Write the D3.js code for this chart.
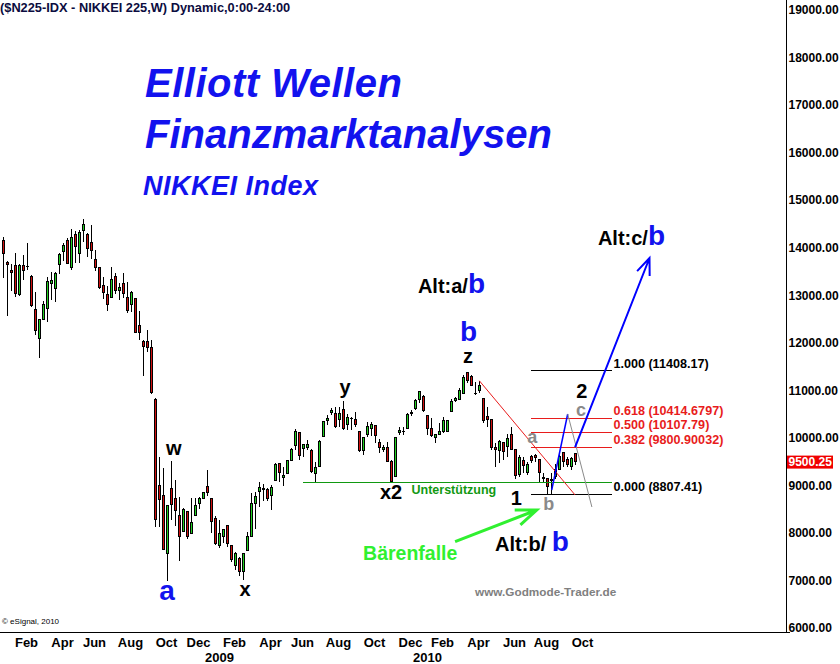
<!DOCTYPE html>
<html><head><meta charset="utf-8">
<script src="https://cdn.jsdelivr.net/npm/d3@7"></script>
<style>
body{margin:0;background:#fff;}
svg{display:block;font-family:"Liberation Sans",Arial,sans-serif;}
</style></head><body>
<svg id="c" width="840" height="664"></svg>
<script>
// ---------- DATA ----------
const firstWeek = "2008-01-14";   // Monday of first weekly bar
const lastWeek  = "2010-10-11";   // Monday of last weekly bar
const opens = [14141,13699,13510,13629,13019,13629,13600,13397,12710,12086,12493,12724,13250,13145,13650,13916,14141,13587,14281,13881,
14365,14267,14113,13755,13587,13208,13019,12956,13397,13096,13250,12956,12808,12935,12353,12037,12037,11890,10817,9008,
8777,7571,8938,8714,8356,8027,8454,7985,8370,8623,8728,8987,8728,8307,7725,7921,8160,7739,7325,7452,
7185,7627,7935,8623,8868,8910,8903,8784,9113,9450,9163,9254,9513,9836,10115,9779,9800,9744,9253,9407,
10024,10361,10529,10515,10389,10599,10291,10403,10389,10143,9730,10080,10200,10270,9898,9758,9800,9498,9183,10108,
10130,10200,10515,10620,10810,10880,10480,10200,10010,10080,10129,10143,10550,10796,10810,10936,11371,11300,10925,11006,
10831,10445,10389,9800,9744,9898,9828,10080,9758,9239,9533,9267,9604,9625,9548,9169,9148,9120,9183,9337,
9688,9548,9407,9674];
const highs = [14232,13720,13657,13895,13657,13846,14105,13420,13068,12493,12878,13383,13488,13495,13895,14091,14211,14393,14351,14372,
14603,14302,14477,13951,13600,13390,13194,13587,13467,13264,13460,13278,13096,12950,12668,12050,12268,12058,10830,9604,
9366,8580,9513,9113,8763,8531,8470,8728,8728,8763,8870,9324,8740,8356,8272,8090,8170,7750,7592,7501,
7585,8027,8833,8861,9064,9029,8938,9008,9478,9478,9394,9520,9794,10179,10125,9870,9954,9758,9498,9954,
10361,10480,10634,10655,10655,10775,10501,10431,10550,10150,10020,10340,10340,10280,9968,9849,9919,9533,10020,10235,
10235,10515,10585,10817,10992,10901,10490,10410,10090,10305,10445,10375,10817,10852,11041,11321,11392,11321,11181,11202,
10840,10655,10395,9884,9954,9905,10080,10235,9765,9639,9604,9498,9639,9660,9555,9267,9155,9253,9449,9639,
9709,9604,9604,9690];
const lows = [13369,12570,13096,12970,12990,13320,13531,12759,12163,11679,12479,12437,12899,12864,13446,13720,13650,13538,13671,13671,
14127,13811,13755,13516,13124,12920,12675,12942,13026,12899,12935,12619,12654,12198,12058,11308,11799,10930,8118,8132,
7640,6996,8272,8153,7417,8010,7865,7970,8363,8496,8714,8784,8006,7746,7676,7781,7697,7396,7220,7094,
7010,7620,7930,8083,8552,8679,8679,8482,9110,9078,8987,9240,9505,9745,9533,9604,9744,9253,9057,9393,
10010,10270,10480,10200,10235,10165,10165,10165,10235,9709,9639,10024,10038,9884,9688,9709,9490,9057,9169,10059,
10059,10179,10459,10585,10725,10550,10059,10024,9898,10059,10108,10130,10536,10760,10796,10922,11146,11090,10901,10936,
10305,10235,9744,9393,9463,9533,9604,9744,9127,9169,9253,9218,9463,9498,9064,9057,8807,8807,9127,9323,
9393,9393,9323,9428];
const closes = [13881,13650,13481,13033,13615,13523,13610,12780,12261,12479,12815,13299,13320,13467,13867,14056,13671,14218,14028,14323,
14491,13986,13951,13587,13166,13061,12808,13334,13096,13166,13040,12675,13061,12212,12212,11918,11897,10950,8286,8707,
7655,8567,8602,8468,7935,8496,7921,8223,8581,8728,8854,8847,8244,7767,7991,8076,7781,7431,7557,7185,
7557,7935,8623,8763,8959,8925,8728,8959,9429,9268,9212,9513,9759,10144,9639,9863,9850,9288,9379,9933,
10354,10410,10585,10235,10515,10200,10431,10410,10284,9730,10010,10235,10291,10059,9800,9800,9498,9078,10010,10150,
10140,10494,10536,10796,10971,10585,10200,10059,10080,10129,10375,10361,10760,10831,10992,11272,11216,11111,10935,11111,
10361,10389,9800,9758,9919,9709,9989,9758,9218,9590,9428,9449,9533,9590,9267,9148,8986,9106,9337,9604,
9498,9449,9569,9500.25];

const priceTicks = [6000,7000,8000,9000,10000,11000,12000,13000,14000,15000,16000,17000,18000,19000];
const monthLabels = ["Feb","Apr","Jun","Aug","Oct","Dec","Feb","Apr","Jun","Aug","Oct","Dec","Feb","Apr","Jun","Aug","Oct"];
const monthTickDates = ["2008-02-25","2008-04-28","2008-06-23","2008-08-25","2008-10-27","2008-12-22",
  "2009-02-23","2009-04-27","2009-06-22","2009-08-24","2009-10-26","2009-12-28",
  "2010-02-22","2010-04-26","2010-06-28","2010-08-23","2010-10-25"];
const yearLabels = ["2009","2010"];
const yearTickDates = ["2009-01-26","2010-01-25"];

const fibLabels = ["1.000 (11408.17)","0.618 (10414.6797)","0.500 (10107.79)","0.382 (9800.90032)","0.000 (8807.41)"];
const fibValues = [11408.17,10414.6797,10107.79,9800.90032,8807.41];
const fibKinds  = ["edge","mid","mid","mid","edge"];
const fibSpanWeeks = [131.9,152.1];

const supportValue = 9065;
const supportSpanWeeks = [74.8,152.1];
const supportLabel = "Unterstützung";

// wave labels: text, week index, price at baseline, kind
const waveLabels = [
  ["w",42.6,9639,"blk"],["a",40.9,6589,"blue"],["x",60.4,6673,"blk"],["y",85.4,10922,"blk"],
  ["x2",96.9,8714,"blk"],["z",116.1,11570,"blk"],["b",116.25,12030,"blue"],["2",144.55,10840,"blk"],
  ["c",144.4,10460,"gray"],["a",132.2,9891,"gray"],["1",128.2,8587,"blk"],["b",136.3,8482,"gray"]
];
const altLabels = [["Alt:a/","b",103.6,13047],["Alt:c/","b",148.6,14056],["Alt:b/ ","b",122.9,7620]];

// lines in (week, price)
const redTrend  = [[118.95,11202],[142.9,8798]];
const blueWaveC = [[137.05,8903],[141.05,10501]];
const grayDown  = [[141.05,10501],[147.1,8545]];
const blueArrow = [[142.9,9807],[161.5,13783]];
const greenArrow = [[112.9,7815],[133.3,8482]];
const trapLabel = ["Bärenfalle",89.9,7430];
const siteLabel = ["www.Godmode-Trader.de",117.9,6673];

// ---------- CHART ----------
const svg = d3.select("#c");
const parse = d3.utcParse("%Y-%m-%d");
const dates = d3.utcMonday.range(parse(firstWeek), d3.utcDay.offset(parse(lastWeek),1));
const x = d3.scaleUtc().domain([dates[0], dates[dates.length-1]]).range([3.5, 3.5 + 4*(dates.length-1)]);
const y = d3.scaleLinear().domain([6000,19000]).range([628,10]);
const t0 = +dates[0];
const wx = w => x(new Date(t0 + w*7*86400000));

const axisX = 786.5, axisY = 632.5;
const BLUE = "#1212ee", GRAY = "#8a8a8a";

// title
svg.append("text").attr("x",0).attr("y",12).attr("font-size",12.8).attr("font-weight","bold")
  .attr("fill","#0c0c40").text("($N225-IDX - NIKKEI 225,W) Dynamic,0:00-24:00");

// big blue titles
const tg = svg.append("g").attr("fill",BLUE).attr("font-weight","bold").attr("font-style","italic");
tg.append("text").attr("x",145).attr("y",97).attr("font-size",40).attr("letter-spacing",0.5).text("Elliott Wellen");
tg.append("text").attr("x",145).attr("y",148).attr("font-size",40).text("Finanzmarktanalysen");
tg.append("text").attr("x",143).attr("y",195).attr("font-size",27).attr("letter-spacing",0.5).text("NIKKEI Index");

// candles
const data = dates.map((d,i)=>({d,o:opens[i],h:highs[i],l:lows[i],c:closes[i]}));
const cg = svg.append("g").attr("shape-rendering","crispEdges");
cg.selectAll("line.wick").data(data).join("line")
  .attr("x1",d=>x(d.d)).attr("x2",d=>x(d.d))
  .attr("y1",d=>y(d.h)).attr("y2",d=>y(d.l))
  .attr("stroke","#000").attr("stroke-width",1);
cg.selectAll("rect.body").data(data).join("rect")
  .attr("x",d=>x(d.d)-1).attr("width",2)
  .attr("y",d=>y(Math.max(d.o,d.c)))
  .attr("height",d=>Math.max(0.5,Math.abs(y(d.o)-y(d.c))))
  .attr("fill",d=>d.c>=d.o?"#22d022":"#d01010")
  .attr("stroke","#000").attr("stroke-width",1);

// support line
svg.append("line").attr("x1",wx(supportSpanWeeks[0])).attr("x2",wx(supportSpanWeeks[1]))
  .attr("y1",y(supportValue)).attr("y2",y(supportValue))
  .attr("stroke","#119911").attr("stroke-width",1).attr("shape-rendering","crispEdges");
svg.append("text").attr("x",wx(102)).attr("y",y(8819)).attr("font-size",12.5).attr("font-weight","bold")
  .attr("fill","#119911").text(supportLabel);

// fib lines
fibValues.forEach((v,i)=>{
  const col = fibKinds[i]==="edge" ? "#000" : "#e81c1c";
  svg.append("line").attr("x1",wx(fibSpanWeeks[0])).attr("x2",wx(fibSpanWeeks[1]))
    .attr("y1",y(v)).attr("y2",y(v)).attr("stroke",col).attr("stroke-width",1).attr("shape-rendering","crispEdges");
  svg.append("text").attr("x",wx(fibSpanWeeks[1])+1.5).attr("y",y(v)-3.3)
    .attr("font-size",12.6).attr("font-weight","bold").attr("fill",col).text(fibLabels[i]);
});

const line = d3.line().x(p=>wx(p[0])).y(p=>y(p[1]));
svg.append("path").attr("d",line(redTrend)).attr("stroke","#e81c1c").attr("stroke-width",1).attr("fill","none");
svg.append("path").attr("d",line(blueWaveC)).attr("stroke","#0000ff").attr("stroke-width",1.5).attr("fill","none");
svg.append("path").attr("d",line(grayDown)).attr("stroke","#8a8a8a").attr("stroke-width",1).attr("fill","none");

function arrow(pts, color, width, len, ang){
  const [a,b] = pts;
  const x1=wx(a[0]), y1=y(a[1]), x2=wx(b[0]), y2=y(b[1]);
  const th = Math.atan2(y1-y2, x1-x2);
  const r = ang*Math.PI/180;
  const p = d3.path();
  p.moveTo(x1,y1); p.lineTo(x2,y2);
  p.moveTo(x2+len*Math.cos(th+r), y2+len*Math.sin(th+r)); p.lineTo(x2,y2);
  p.lineTo(x2+len*Math.cos(th-r), y2+len*Math.sin(th-r));
  svg.append("path").attr("d",p.toString()).attr("stroke",color).attr("stroke-width",width)
    .attr("fill","none").attr("stroke-linejoin","miter");
}
arrow(blueArrow,"#0000ff",2,18,22);
arrow(greenArrow,"#30f030",3,22,21);

// wave labels
waveLabels.forEach(([t,w,v,k])=>{
  const size = k==="blue"?28:(k==="gray"?18:20);
  const col = k==="blue"?BLUE:(k==="gray"?GRAY:"#000");
  svg.append("text").attr("x",wx(w)).attr("y",y(v)).attr("text-anchor","middle")
    .attr("font-size",size).attr("font-weight","bold").attr("fill",col).text(t);
});
altLabels.forEach(([t,b,w,v])=>{
  const tx = svg.append("text").attr("x",wx(w)).attr("y",y(v)).attr("font-weight","bold");
  tx.append("tspan").attr("font-size",20).attr("fill","#000").text(t);
  tx.append("tspan").attr("font-size",28).attr("fill",BLUE).text(b);
});
svg.append("text").attr("x",wx(trapLabel[1])).attr("y",y(trapLabel[2])).attr("font-size",19.5)
  .attr("font-weight","bold").attr("fill","#30f030").text(trapLabel[0]);
svg.append("text").attr("x",wx(siteLabel[1])).attr("y",y(siteLabel[2])).attr("font-size",11.75)
  .attr("font-weight","bold").attr("fill","#808080").text(siteLabel[0]);
svg.append("text").attr("x",2).attr("y",624).attr("font-size",8).attr("fill","#000").text("© eSignal, 2010");

// axes
svg.append("line").attr("x1",axisX).attr("x2",axisX).attr("y1",0).attr("y2",axisY)
  .attr("stroke","#000").attr("shape-rendering","crispEdges");
svg.append("line").attr("x1",0).attr("x2",790).attr("y1",axisY).attr("y2",axisY)
  .attr("stroke","#000").attr("shape-rendering","crispEdges");
const ya = svg.append("g").attr("font-size",12).attr("font-weight","bold");
ya.selectAll("text").data(priceTicks).join("text")
  .attr("x",788.5).attr("y",d=>y(d)).attr("dy","0.36em").text(d3.format(".2f"));
// last price marker
const lp = closes[closes.length-1];
svg.append("rect").attr("x",787).attr("y",y(lp)-6).attr("width",46).attr("height",13).attr("fill","#f00000");
svg.append("text").attr("x",788.5).attr("y",y(lp)).attr("dy","0.36em").attr("font-size",12)
  .attr("font-weight","bold").attr("fill","#fff").text(d3.format(".2f")(lp));

const xa = svg.append("g").attr("font-size",13).attr("font-weight","bold").attr("text-anchor","middle");
xa.selectAll("text.m").data(monthLabels).join("text")
  .attr("x",(d,i)=>x(parse(monthTickDates[i]))-1).attr("y",647).text(d=>d);
xa.selectAll("text.yr").data(yearLabels).join("text")
  .attr("x",(d,i)=>x(parse(yearTickDates[i]))).attr("y",662).text(d=>d);
</script></body></html>
